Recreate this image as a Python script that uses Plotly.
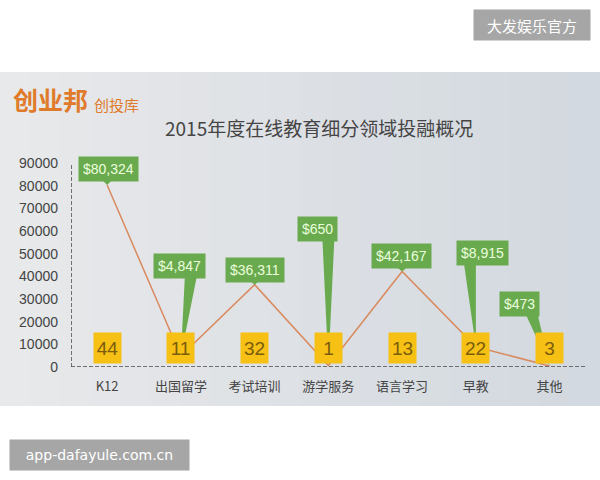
import plotly.graph_objects as go

# ---- data ----
categories = ["K12", "出国留学", "考试培训", "游学服务", "语言学习", "早教", "其他"]
amounts = [80324, 4847, 36311, 650, 42167, 8915, 473]
amount_labels = ["$80,324", "$4,847", "$36,311", "$650", "$42,167", "$8,915", "$473"]
counts = [44, 11, 32, 1, 13, 22, 3]
y_ticks = [0, 10000, 20000, 30000, 40000, 50000, 60000, 70000, 80000, 90000]

# ---- style / layout ----
W, H = 600, 480
ML, MR, MT, MB = 71, 15, 163, 113
PW, PH = W - ML - MR, H - MT - MB
XR = [-0.49, 6.48]
YR = [0, 90000]
# callout box centre offsets (px) from point, and pointer base x offset (px) from point
box_dx = [1, -1, 0, -11, -1, 7, -30]
box_dy = [-16, -90, -15, -137, -15, -94, -62]
base_dx = [0, 10, 0, 0, 0, -6, -18]
box_h = 24

GREEN = "#6aaa4f"
YELLOW = "#f6c014"
LINE = "#d98a5e"
ORANGE = "#e07b2b"
FONT = "Liberation Sans, Noto Sans CJK SC, sans-serif"
CJK = "Noto Sans CJK SC, sans-serif"

xs = list(range(len(categories)))
px_x = (XR[1] - XR[0]) / PW
px_y = (YR[1] - YR[0]) / PH

def paper_x(px):
    return (px - ML) / PW

def paper_y(py):
    return (H - MB - py) / PH

fig = go.Figure()
fig.add_trace(go.Scatter(x=xs, y=amounts, mode="lines",
                         line=dict(color=LINE, width=1.5), hoverinfo="skip"))

shapes = []
# gray panel gradient strips
n = 20
c0 = (232, 233, 235)
c1 = (211, 217, 224)
for k in range(n):
    t = k / (n - 1)
    c = tuple(int(c0[j] + (c1[j] - c0[j]) * t) for j in range(3))
    shapes.append(dict(type="rect", xref="paper", yref="paper", layer="below",
                       x0=paper_x(W * k / n), x1=paper_x(W * (k + 1) / n + 1),
                       y0=paper_y(406), y1=paper_y(72),
                       fillcolor="rgb(%d,%d,%d)" % c, line=dict(width=0)))
# dashed axes
shapes.append(dict(type="line", xref="x", yref="y", x0=XR[0], x1=XR[1], y0=0, y1=0,
                   line=dict(color="#4a4a4a", width=1.5, dash="4px,2px"), layer="above"))
shapes.append(dict(type="line", xref="x", yref="y", x0=XR[0], x1=XR[0], y0=0, y1=YR[1],
                   line=dict(color="#4a4a4a", width=1.5, dash="4px,2px"), layer="above"))

annotations = []
# pointers + green callouts
for i, v in enumerate(amounts):
    bx = i + (base_dx[i]) * px_x
    by = v - (box_dy[i] + box_h / 2 - 2) * px_y
    hw = 6 * px_x
    path = "M %f %f L %f %f L %f %f Z" % (bx - hw, by, bx + hw, by, i, v)
    shapes.append(dict(type="path", xref="x", yref="y", path=path,
                       fillcolor=GREEN, line=dict(width=0), layer="above"))
    annotations.append(dict(x=i, y=v, xref="x", yref="y", text=amount_labels[i],
                            showarrow=False, xshift=box_dx[i], yshift=-box_dy[i],
                            xanchor="center", yanchor="middle",
                            bgcolor=GREEN, borderpad=4, height=box_h - 8,
                            font=dict(family=FONT, size=14, color="#eaffdc")))
# yellow count boxes
for i, c in enumerate(counts):
    annotations.append(dict(x=i, y=0, xref="x", yref="y", text=str(c),
                            showarrow=False, yshift=19, width=27, height=30,
                            xanchor="center", yanchor="middle",
                            bgcolor=YELLOW, borderpad=0,
                            font=dict(family=FONT, size=19, color="#7a5c0c")))

# title and logo
annotations.append(dict(xref="paper", yref="paper", x=paper_x(319), y=paper_y(127),
                        xanchor="center", yanchor="middle",
                        text="2015年度在线教育细分领域投融概况", showarrow=False,
                        font=dict(family=CJK, size=19, color="#454545")))
annotations.append(dict(xref="paper", yref="paper", x=paper_x(11), y=paper_y(99),
                        xanchor="left", yanchor="middle", text="<b>创业邦</b>", showarrow=False,
                        font=dict(family=CJK, size=25, color=ORANGE)))
annotations.append(dict(xref="paper", yref="paper", x=paper_x(92), y=paper_y(105),
                        xanchor="left", yanchor="middle", text="创投库", showarrow=False,
                        font=dict(family=CJK, size=15, color=ORANGE)))
# watermarks
annotations.append(dict(xref="paper", yref="paper", x=paper_x(532), y=paper_y(25),
                        xanchor="center", yanchor="middle",
                        text="大发娱乐官方", showarrow=False, bgcolor="#a6a6a6",
                        width=108, height=22, borderpad=4,
                        font=dict(family=CJK, size=15, color="white")))
annotations.append(dict(xref="paper", yref="paper", x=paper_x(99), y=paper_y(455),
                        xanchor="center", yanchor="middle",
                        text="app-dafayule.com.cn", showarrow=False, bgcolor="#a6a6a6",
                        width=171, height=22, borderpad=4,
                        font=dict(family="DejaVu Sans, sans-serif", size=14, color="white")))

fig.update_layout(
    width=W, height=H, margin=dict(l=ML, r=MR, t=MT, b=MB),
    paper_bgcolor="white", plot_bgcolor="rgba(0,0,0,0)",
    showlegend=False, shapes=shapes, annotations=annotations,
    xaxis=dict(range=XR, tickmode="array", tickvals=xs, ticktext=categories,
               showgrid=False, zeroline=False, showline=False, ticks="",
               ticklabelstandoff=10,
               tickfont=dict(family=CJK, size=13, color="#444")),
    yaxis=dict(range=YR, tickmode="array", tickvals=y_ticks,
               ticktext=[str(t) for t in y_ticks],
               showgrid=False, zeroline=False, showline=False, ticks="",
               ticklabelstandoff=12,
               tickfont=dict(family=FONT, size=14, color="#444")),
)
fig.write_html("out.html")
